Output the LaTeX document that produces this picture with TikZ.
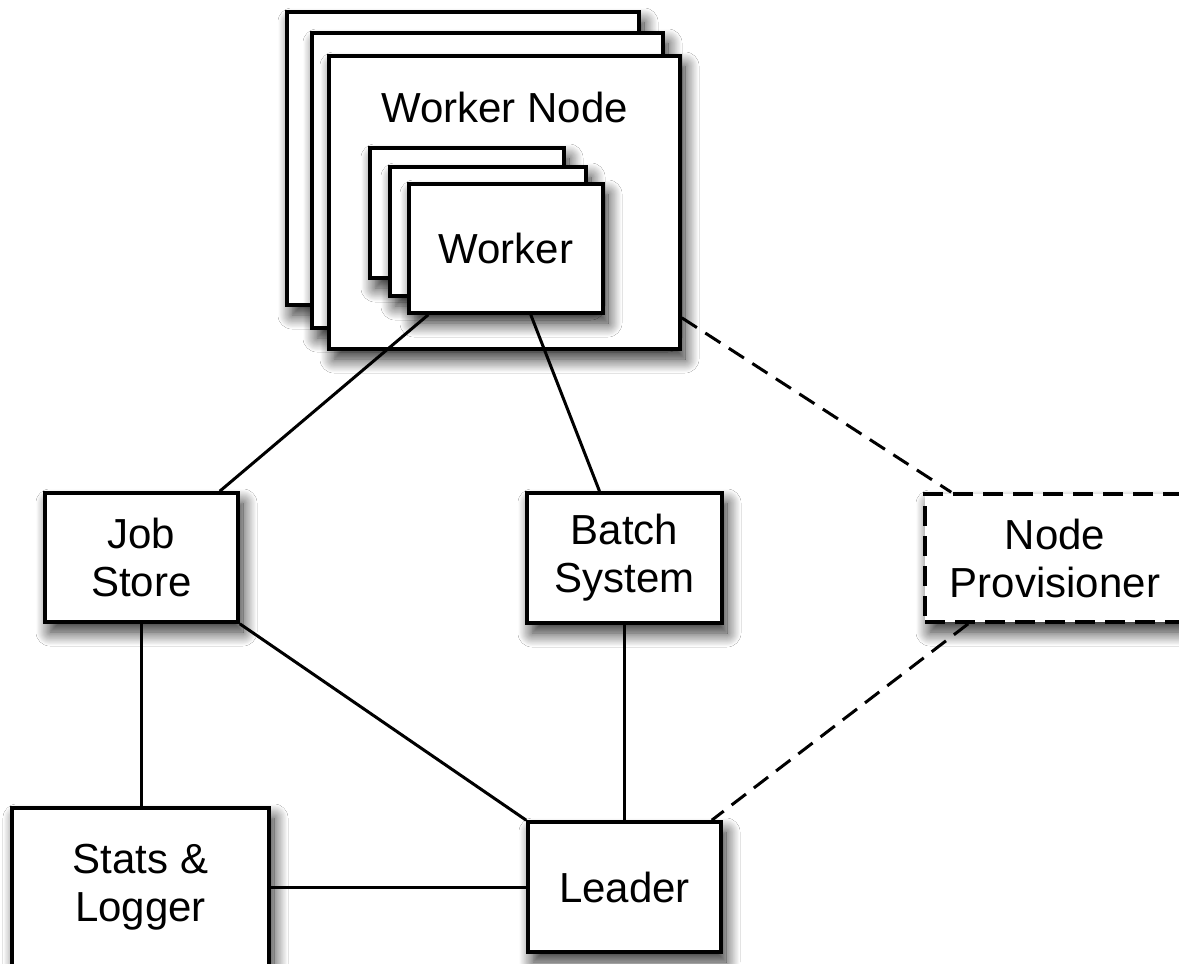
\documentclass[tikz,border=0pt]{standalone}
\usepackage{fontspec}
\setmainfont{Liberation Sans}
\usetikzlibrary{shadows.blur}
\begin{document}
\begin{tikzpicture}[x=1pt,y=-1pt,
  box/.style={draw=black, line width=3.6pt, fill=white, rectangle, inner sep=0pt,
    align=center, font=\fontsize{42}{48}\selectfont,
    blur shadow={shadow xshift=5pt, shadow yshift=-10pt, shadow blur radius=14pt,
      shadow blur steps=16, shadow opacity=85}},
  dbox/.style={box, dash pattern=on 20pt off 10pt},
  conn/.style={line width=3pt, draw=black},
  dconn/.style={conn, dash pattern=on 18pt off 10pt},
  lbl/.style={font=\fontsize{42}{48}\selectfont, inner sep=0pt}]
\useasboundingbox (0,0) rectangle (1179,964);
\fill[white] (0,0) rectangle (1179,964);
\clip (0,0) rectangle (1179,964);

% worker node stack
\node[box, minimum width=352pt, minimum height=293pt] (wn1) at (463,158.5) {};
\node[box, minimum width=351pt, minimum height=295pt] (wn2) at (487.5,180.5) {};
\node[box, minimum width=351pt, minimum height=293pt] (wn3) at (504.5,202.5) {};
\node[lbl, anchor=base] (wnl) at (504.5,122) {Worker Node};

% worker stack
\node[box, minimum width=194pt, minimum height=130pt] (w1) at (467,213) {};
\node[box, minimum width=196pt, minimum height=129pt] (w2) at (488,231.5) {};
\node[box, minimum width=194pt, minimum height=129pt] (w3) at (506,248.5) {Worker};

% middle row
\node[box, minimum width=193pt, minimum height=129pt] (js) at (141.5,557.5) {Job\\Store};
\node[box, minimum width=195pt, minimum height=130pt] (bs) at (624.5,558) {Batch\\System};
\node[dbox, minimum width=260pt, minimum height=128pt] (np) at (1055,558) {Node\\Provisioner};

% bottom row
\node[box, minimum width=257pt, minimum height=158pt] (sl) at (140.5,887) {Stats \&\\Logger};
\node[box, minimum width=193pt, minimum height=130pt] (ld) at (624.5,887) {Leader};

% connectors
\draw[conn] ([xshift=21pt]w3.south west) -- ([xshift=-20pt]js.north east);
\draw[conn] ([xshift=-74pt]w3.south east) -- ([xshift=-25pt]bs.north);
\draw[conn] (js.south) -- (js.south |- sl.north);
\draw[conn] (js.south east) -- (ld.north west);
\draw[conn] (bs.south) -- (ld.north);
\draw[conn] (sl.east |- ld.west) -- (ld.west);
\draw[dconn] ([yshift=33pt]wn3.south east) -- ([xshift=28pt]np.north west);
\draw[dconn] ([xshift=45pt]np.south west) -- ([xshift=-11pt]ld.north east);
\end{tikzpicture}
\end{document}
